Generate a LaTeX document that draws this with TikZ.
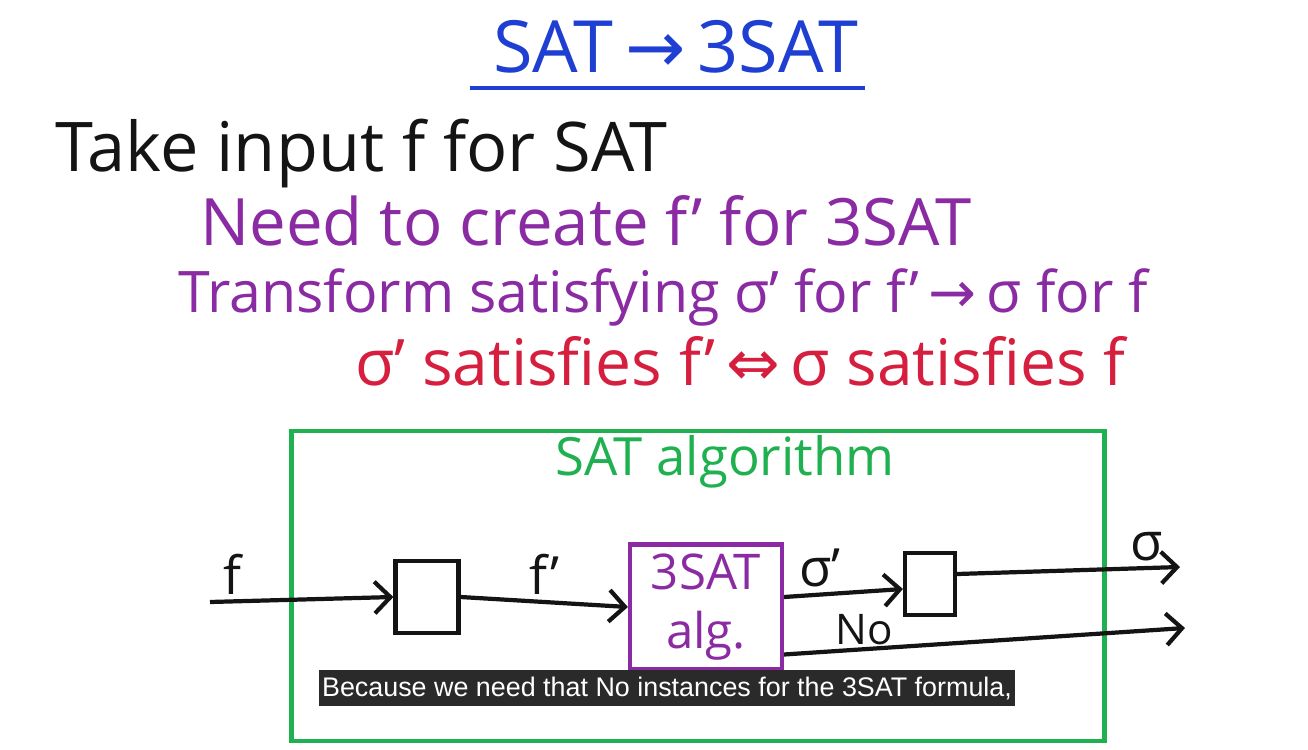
\documentclass[tikz,border=0pt]{standalone}
\usepackage{fontspec}
\setmainfont{Open Sans}
\newfontfamily\capfont{Liberation Sans}
\newfontfamily\symfont{DejaVu Sans}
\usetikzlibrary{arrows.meta, positioning}
\definecolor{ink}      {HTML}{141414}
\definecolor{penblue}  {HTML}{1E3FD2}
\definecolor{penpurple}{HTML}{8A2BA3}
\definecolor{penred}   {HTML}{D61F3E}
\definecolor{pengreen} {HTML}{1FB04F}
\definecolor{capbg}    {HTML}{2A2A2A}
\newcommand{\tto}{{\symfont →}}
\newcommand{\iffarrow}{{\symfont ⇔}}
\tikzset{
  hand/.style  = {inner sep=0pt, anchor=base west},
  blk/.style   = {draw=ink, line width=2.4pt, inner sep=0pt},
  arr/.style   = {-{Straight Barb[length=9pt, width=18pt]}, line width=2.4pt, ink},
  labl/.style  = {font=\fontsize{30}{36}\selectfont, inner sep=3pt},
}

\begin{document}
\begin{tikzpicture}[x=0.02cm, y=-0.02cm]
  \useasboundingbox (0,0) rectangle (1308,750);

  % heading
  \node[font=\fontsize{41}{46}\selectfont, text=penblue, inner sep=0pt, anchor=base]
    (title) at (676,72) {SAT\,\tto\,3SAT};
  \draw[penblue, line width=2.5pt] (470,88) -- (865,88);

  % the lines of text
  \node[hand, text=ink, font=\fontsize{39}{43}\selectfont] (take) at (55,172)
    {Take input f for SAT};
  \node[hand, text=penpurple, font=\fontsize{37.2}{41}\selectfont] (need) at (200,245)
    {Need to create f’ for 3SAT};
  \node[hand, text=penpurple, font=\fontsize{32.6}{38}\selectfont] (trans) at (178,312)
    {Transform satisfying σ’ for f’\,\tto\,σ for f};
  \node[hand, text=penred, font=\fontsize{36.5}{41}\selectfont] (iff) at (355,385)
    {σ’ satisfies f’\,\iffarrow\,σ satisfies f};

  % the outer algorithm
  \node[draw=pengreen, line width=2.5pt, minimum width=16.26cm,
        minimum height=6.2cm, inner sep=0pt] (frame) at (698,586) {};
  \node[font=\fontsize{30}{36}\selectfont, text=pengreen, inner sep=0pt]
    (algtitle) at (725,462) {SAT algorithm};

  % blocks
  \node[blk, minimum width=1.26cm, minimum height=1.44cm] (pre) at (427,597) {};
  \node[draw=penpurple, line width=2.4pt, minimum width=3.04cm,
        minimum height=2.5cm, align=center, text=penpurple,
        font=\fontsize{28}{34}\selectfont] (alg) at (706,607) {3SAT\\alg.};
  \node[blk, minimum width=1.0cm, minimum height=1.24cm] (post) at (930,584) {};

  \coordinate (fin)    at (210,602);
  \coordinate (sigout) at (1180,567);
  \coordinate (noout)  at (1185,628);

  % flow
  \draw[arr] (fin) -- node[labl, above, pos=0.12]{f} (pre.west);
  \draw[arr] (pre.east) -- node[labl, above]{f’} (alg.west);
  \draw[arr] ([yshift=0.2cm]alg.east) -- node[labl, above, pos=0.3]{σ’}
    ([yshift=-0.1cm]post.west);
  \draw[arr] ([yshift=0.2cm]post.east) -- node[labl, above, pos=0.85]{σ}
    (sigout);
  \draw[arr] ([yshift=-0.95cm]alg.east) -- node[above, pos=0.2, inner sep=1pt,
    font=\fontsize{24}{28}\selectfont]{No} (noout);

  % subtitle bar
  \node[fill=capbg, text=white, inner xsep=2pt, inner ysep=4pt,
        font=\capfont\fontsize{15.3}{17}\selectfont] (subtitle) at (667,688)
    {Because we need that No instances for the 3SAT formula,};
\end{tikzpicture}
\end{document}
